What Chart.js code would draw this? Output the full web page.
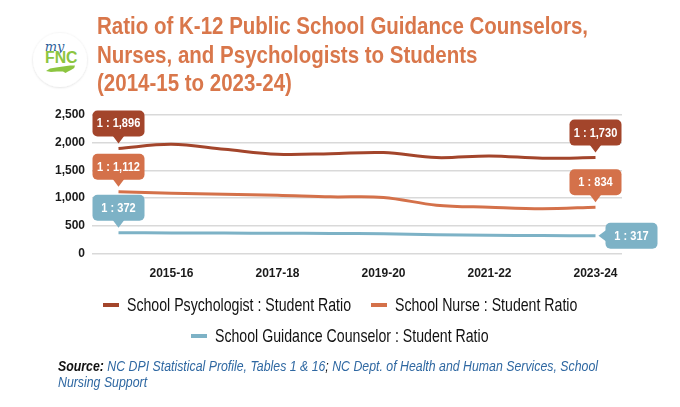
<!DOCTYPE html>
<html>
<head>
<meta charset="utf-8">
<script src="https://cdn.jsdelivr.net/npm/chart.js@4.4.1/dist/chart.umd.min.js"></script>
<style>
  html, body { margin: 0; padding: 0; background: #fff; }
  body {
    width: 680px; height: 407px; position: relative; overflow: hidden;
    font-family: 'Liberation Sans', Arial, sans-serif;
  }
  .fit { display: inline-block; white-space: nowrap; transform-origin: 0 50%; }
  #logo { position: absolute; left: 30px; top: 30px; }
  #title {
    position: absolute; left: 97px; top: 12px; color: #d9774b;
    font-weight: bold; font-size: 24px; line-height: 28.5px;
  }
  #title > div { height: 28.5px; }
  #chartBox { position: absolute; left: 0; top: 100px; width: 680px; height: 190px; }
  #legend {
    position: absolute; left: 0; top: 295px; width: 680px;
    display: flex; flex-wrap: wrap; justify-content: center;
    column-gap: 20px; row-gap: 11px;
  }
  .item { display: flex; align-items: center; height: 20px; }
  .swatch { width: 16px; height: 4px; margin-right: 8px; }
  .item .fit { font-size: 18.5px; color: #111; line-height: 20px; }
  #source {
    position: absolute; left: 58px; top: 358px; font-size: 14px; line-height: 16px;
    font-style: italic; color: #2f68a2;
  }
  #source > div { height: 16px; }
  #source b, #source .k { color: #111; }
</style>
</head>
<body>

<svg id="logo" width="60" height="60" viewBox="0 0 60 60">
  <defs>
    <filter id="sh" x="-20%" y="-20%" width="140%" height="140%">
      <feDropShadow dx="0" dy="0.5" stdDeviation="1.3" flood-color="#000" flood-opacity="0.15"/>
    </filter>
  </defs>
  <circle cx="30" cy="30" r="27" fill="#fff" filter="url(#sh)"/>
  <text x="24.5" y="20.5" text-anchor="middle" font-family="'DejaVu Serif', serif" font-style="italic"
        font-size="13" fill="#2d5e99">my</text>
  <text x="15" y="33" font-family="'Liberation Sans', sans-serif" font-weight="bold"
        font-size="16" fill="#8cc540" textLength="32.5" lengthAdjust="spacingAndGlyphs">FNC</text>
  <path d="M16 41 L20 38.6 L26 37.6 L33 36.6 L40 35.6 L45 35.4 L44.2 38 L41 40 L38 41.6 L35.5 43 L33 41.6 L27 41.6 L21 42 Z"
        fill="#8cc540"/>
</svg>

<div id="title">
  <div><span class="fit">Ratio of K-12 Public School Guidance Counselors,</span></div>
  <div><span class="fit">Nurses, and Psychologists to Students</span></div>
  <div><span class="fit">(2014-15 to 2023-24)</span></div>
</div>

<div id="chartBox"><canvas id="chart"></canvas></div>
<div id="legend"></div>

<div id="source">
  <div><span class="fit"><b>Source:</b> NC DPI Statistical Profile, Tables 1 &amp; 16<span class="k">;</span> NC Dept. of Health and Human Services, School</span></div>
  <div><span class="fit">Nursing Support</span></div>
</div>

<script>
// --- data ---
const years = ['2014-15', '2015-16', '2016-17', '2017-18', '2018-19',
               '2019-20', '2020-21', '2021-22', '2022-23', '2023-24'];
const psychologist = [1896, 1970, 1880, 1790, 1800, 1820, 1730, 1760, 1720, 1730];
const nurse        = [1112, 1085, 1068, 1050, 1020, 1010, 870, 832, 805, 834];
const counselor    = [372, 369, 366, 363, 360, 355, 335, 325, 320, 317];
const seriesNames  = ['School Psychologist : Student Ratio',
                      'School Nurse : Student Ratio',
                      'School Guidance Counselor : Student Ratio'];
const seriesColors = ['#a3452b', '#d4714a', '#7db2c6'];
const yMax = 2500;
const yStep = 500;

const FONT = "'Liberation Sans', Arial, sans-serif";

// squeeze a row of text so it lands on a given width; other rows share the factor
function fitGroup(spans, targetWidth) {
  const k = targetWidth / spans[0].getBoundingClientRect().width;
  for (const s of spans) {
    const w = s.getBoundingClientRect().width;
    s.style.transform = `scaleX(${k})`;
    s.style.width = (w * k) + 'px';
  }
}

// which side the end-of-line callout sits on, per series
const endSides = ['above', 'above', 'right'];

function drawCallout(ctx, pt, value, color, side) {
  const w = 52, h = 26, r = 5, tip = 7, half = 6;
  let bx, by;
  ctx.save();
  ctx.fillStyle = color;
  ctx.beginPath();
  if (side === 'right') {
    const tx = pt.x + 3, ty = pt.y;
    bx = tx + tip; by = ty - h / 2;
    ctx.moveTo(tx, ty);
    ctx.lineTo(bx + 1, ty - half);
    ctx.lineTo(bx + 1, ty + half);
  } else {
    const tx = pt.x, ty = pt.y - 5;
    bx = tx - w / 2; by = ty - tip - h;
    ctx.moveTo(tx, ty);
    ctx.lineTo(tx - half, by + h - 1);
    ctx.lineTo(tx + half, by + h - 1);
  }
  ctx.closePath();
  ctx.fill();
  ctx.beginPath();
  ctx.roundRect(bx, by, w, h, r);
  ctx.fill();
  // condensed white label
  ctx.fillStyle = '#fff';
  ctx.font = `bold 13px ${FONT}`;
  ctx.textAlign = 'center';
  ctx.textBaseline = 'middle';
  ctx.translate(bx + w / 2, by + h / 2 + 0.5);
  ctx.scale(0.85, 1);
  ctx.fillText('1 : ' + value.toLocaleString('en-US'), 0, 0);
  ctx.restore();
}

const calloutPlugin = {
  id: 'callouts',
  afterDatasetsDraw(chart) {
    const ctx = chart.ctx;
    chart.data.datasets.forEach((ds, i) => {
      const pts = chart.getDatasetMeta(i).data;
      const last = pts.length - 1;
      drawCallout(ctx, pts[0], ds.data[0], ds.borderColor, 'above');
      drawCallout(ctx, pts[last], ds.data[last], ds.borderColor, endSides[i]);
    });
  }
};

const chart = new Chart(document.getElementById('chart'), {
  type: 'line',
  data: {
    labels: years,
    datasets: [psychologist, nurse, counselor].map((values, i) => ({
      label: seriesNames[i],
      data: values,
      borderColor: seriesColors[i],
      backgroundColor: seriesColors[i],
      borderWidth: 3,
      pointRadius: 0,
      tension: 0.35,
      fill: false,
    })),
  },
  options: {
    responsive: true,
    maintainAspectRatio: false,
    animation: false,
    layout: { padding: { left: 0, right: 58, top: 15, bottom: 0 } },
    plugins: {
      legend: { display: false },
      tooltip: { enabled: false },
    },
    scales: {
      x: {
        offset: true,
        grid: { display: false },
        border: { display: false },
        ticks: {
          autoSkip: false, maxRotation: 0, padding: 5,
          color: '#1a1a1a', font: { family: FONT, size: 12, weight: 'bold' },
          callback: (v, i) => (i % 2 === 1 ? years[i] : ''),
        },
        afterFit: (scale) => { scale.height = 36.7; },
      },
      y: {
        min: 0, max: yMax,
        grid: { color: '#d9d9d9', lineWidth: 1.5, drawTicks: false },
        border: { display: false },
        ticks: {
          stepSize: yStep, padding: 7,
          color: '#1a1a1a', font: { family: FONT, size: 12, weight: 'bold' },
          callback: (v) => v.toLocaleString('en-US'),
        },
        afterFit: (scale) => { scale.width = 92; },
      },
    },
  },
  plugins: [calloutPlugin],
});

// legend built from the chart's datasets
const legendEl = document.getElementById('legend');
const legendTexts = [];
chart.data.datasets.forEach((ds) => {
  const item = document.createElement('div');
  item.className = 'item';
  const sw = document.createElement('span');
  sw.className = 'swatch';
  sw.style.background = ds.borderColor;
  const tx = document.createElement('span');
  tx.className = 'fit';
  tx.textContent = ds.label;
  item.append(sw, tx);
  legendEl.append(item);
  legendTexts.push(tx);
});

fitGroup([...document.querySelectorAll('#title .fit')], 491);
fitGroup(legendTexts, 224);
fitGroup([...document.querySelectorAll('#source .fit')], 540);
</script>
</body>
</html>
